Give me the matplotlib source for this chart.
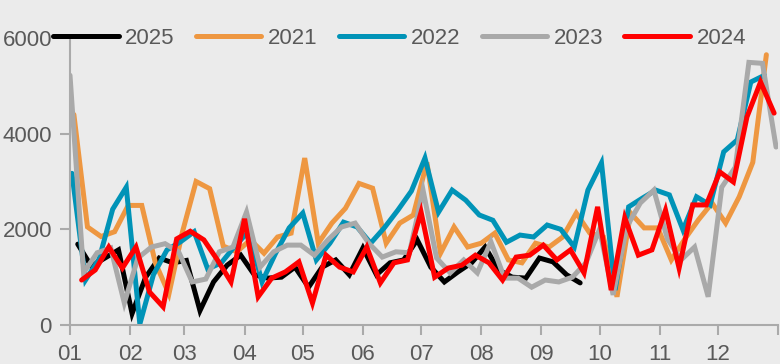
import numpy as np
import pandas as pd
import matplotlib
matplotlib.use('Agg')
import matplotlib.pyplot as plt

# weekly values
y2025 = [1690, 1230, 1400, 1570, 240, 1000, 1400, 1300, 1350, 300, 900, 1250, 1460,
         1050, 980, 1000, 1210, 790, 1210, 1360, 1050, 1610, 1050, 1300, 1360, 1780,
         1210, 900, 1110, 1300, 1630, 1150, 1000, 980, 1400, 1320, 1050, 880]
y2021 = [4400, 2050, 1850, 1950, 2500, 2500, 1300, 650, 1950, 3000, 2850, 1650, 1530,
         1780, 1500, 1840, 1920, 3490, 1710, 2130, 2440, 2960, 2860, 1710, 2130, 2300,
         3400, 1500, 2050, 1630, 1710, 1920, 1360, 1300, 1710, 1630, 1840, 2340, 1920,
         1840, 590, 2340, 2030, 2030, 1360, 1800, 2200, 2550, 2130, 2680, 3400, 5650]
y2022 = [3170, 940, 1380, 2420, 2880, 20, 1050, 1570, 1740, 1950, 1170, 1300, 1650,
         1950, 900, 1500, 2030, 2340, 1360, 1710, 2150, 2050, 1710, 2030, 2400, 2800,
         3490, 2360, 2820, 2610, 2300, 2190, 1730, 1880, 1840, 2090, 2000, 1630, 2820,
         3390, 730, 2470, 2650, 2820, 2720, 1990, 2680, 2510, 3620, 3870, 5080, 5220]
y2023 = [5220, 1090, 1510, 1610, 460, 1400, 1630, 1700, 1530, 900, 960, 1530, 1630,
         2360, 1210, 1530, 1670, 1670, 1460, 1780, 2050, 2130, 1710, 1420, 1530, 1510,
         2820, 1400, 1090, 1360, 1090, 1740, 980, 980, 790, 940, 900, 1000, 1300,
         2000, 630, 2050, 2550, 2820, 1800, 1360, 1630, 590, 2880, 3300, 5490, 5470, 3720]
y2024 = [940, 1150, 1630, 1190, 1630, 690, 380, 1800, 1960, 1780, 1360, 900, 2220,
         590, 980, 1110, 1320, 460, 1460, 1210, 1110, 1630, 880, 1300, 1360, 2360,
         1000, 1190, 1250, 1460, 1300, 940, 1420, 1460, 1670, 1360, 1570, 1090, 2470,
         730, 2240, 1460, 1570, 2400, 1190, 2510, 2510, 3200, 2990, 4350, 5080, 4430]

# first week-ending Sunday of each year
first_week = {'2025': '2025-01-05', '2021': '2021-01-03', '2022': '2022-01-02',
              '2023': '2023-01-01', '2024': '2024-01-07'}
series = {'2025': y2025, '2021': y2021, '2022': y2022, '2023': y2023, '2024': y2024}
colors = {'2025': '#000000', '2021': '#EE9741', '2022': '#0093B7',
          '2023': '#A9A9A9', '2024': '#FF0000'}

month_labels = ['01', '02', '03', '04', '05', '06', '07', '08', '09', '10', '11', '12']

plt.rcParams['font.family'] = ['Liberation Sans', 'DejaVu Sans']
text_color = '#595959'
axis_color = '#AAAAAA'

fig = plt.figure(figsize=(7.8, 3.64), dpi=100, facecolor='#EBEBEB')
ax = fig.add_axes([70 / 780, 39 / 364, 708 / 780, 287 / 364])
ax.set_facecolor('#EBEBEB')

for name, vals in series.items():
    dates = pd.date_range(first_week[name], periods=len(vals), freq='7D')
    x = (dates - pd.Timestamp(dates[0].year, 1, 1)).days
    ax.plot(x, vals, color=colors[name], linewidth=3.6, label=name,
            solid_capstyle='round', solid_joinstyle='miter')

month_starts = (pd.date_range('2021-01-01', periods=12, freq='MS') - pd.Timestamp('2021-01-01')).days
ax.set_xlim(0, 365)
ax.set_xticks(list(month_starts) + [365])
ax.set_xticklabels(month_labels + [''])
ax.set_ylim(0, 6000)
ax.set_yticks([0, 2000, 4000, 6000])

for side in ['top', 'right']:
    ax.spines[side].set_visible(False)
for side in ['left', 'bottom']:
    ax.spines[side].set_color(axis_color)
    ax.spines[side].set_linewidth(1.5)
ax.tick_params(axis='both', colors=axis_color, labelcolor=text_color, labelsize=16,
               length=7, width=1.5)
ax.tick_params(axis='x', pad=7)
ax.tick_params(axis='y', pad=6)

fig.legend(loc='center left', bbox_to_anchor=(53 / 780, 1 - 38 / 364), ncol=5,
           frameon=False, fontsize=16, labelcolor=text_color, handlelength=2.95,
           handletextpad=0.3, columnspacing=0.95, borderpad=0, borderaxespad=0)

fig.savefig('out.png', dpi=100, facecolor=fig.get_facecolor())
